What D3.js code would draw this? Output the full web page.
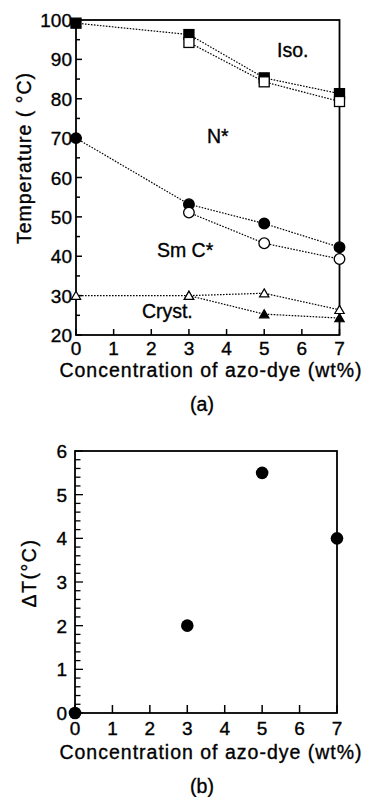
<!DOCTYPE html>
<html>
<head>
<meta charset="utf-8">
<script src="https://cdn.jsdelivr.net/npm/d3@7"></script>
<style>
  body { margin: 0; background: #fff; }
  svg text { font-family: "Liberation Sans", Arial, sans-serif; fill: #000; stroke: #000; stroke-width: 0.35px; }
</style>
</head>
<body>
<svg id="chart" width="367" height="797"></svg>
<script>
// concentration of azo-dye (wt%)
const conc = [0, 3, 5, 7];

// panel (a) transition temperatures (null = no point at that concentration)
const isoFilled = [99.2, 96.3, 85.3, 81.3];
const isoOpen = [null, 94.3, 84.3, 79.3];
const smcFilled = [70, 53.2, 48.3, 42.3];
const smcOpen = [null, 51.1, 43.3, 39.3];
const crystOpen = [30, 30, 30.6, 26.4];
const crystFilled = [null, 30, 25.3, 24.3];

// panel (b) delta T
const deltaT = [0, 2, 5.5, 4];

const xTicks = [0, 1, 2, 3, 4, 5, 6, 7];
const yTicksA = [20, 30, 40, 50, 60, 70, 80, 90, 100];
const yTicksB = [0, 1, 2, 3, 4, 5, 6];

const phaseLabels = [
  { text: "Iso.", x: 5.34, y: 90.6 },
  { text: "N*", x: 3.48, y: 68.8 },
  { text: "Sm C*", x: 2.15, y: 39.8 },
  { text: "Cryst.", x: 1.75, y: 24.3 }
];

const svg = d3.select("#chart");
const tickSize = 19;
const titleSize = 19.5;

// ---------- panel (a) ----------
const xA = d3.scaleLinear().domain([0, 7]).range([76, 339.5]);
const yA = d3.scaleLinear().domain([20, 100]).range([335, 20]);

const gA = svg.append("g");

// frame
gA.append("rect")
  .attr("x", xA(0)).attr("y", yA(100))
  .attr("width", xA(7) - xA(0)).attr("height", yA(20) - yA(100))
  .attr("fill", "none").attr("stroke", "#000").attr("stroke-width", 1.8);

// ticks drawn inward
gA.selectAll(".xt").data(xTicks).enter().append("line")
  .attr("x1", d => xA(d)).attr("x2", d => xA(d))
  .attr("y1", yA(20)).attr("y2", yA(20) - 6)
  .attr("stroke", "#000").attr("stroke-width", 1.5);

const yMinorA = d3.range(20, 100.1, 5);
gA.selectAll(".yt").data(yMinorA).enter().append("line")
  .attr("x1", xA(0)).attr("x2", d => xA(0) + (d % 10 === 0 ? 6 : 4))
  .attr("y1", d => yA(d)).attr("y2", d => yA(d))
  .attr("stroke", "#000").attr("stroke-width", 1.5);

gA.selectAll(".xl").data(xTicks).enter().append("text")
  .attr("x", d => xA(d)).attr("y", 355)
  .attr("text-anchor", "middle").attr("font-size", tickSize)
  .text(d => d);

gA.selectAll(".yl").data(yTicksA).enter().append("text")
  .attr("x", xA(0) - 4).attr("y", d => yA(d) + 7)
  .attr("text-anchor", "end").attr("font-size", tickSize)
  .text(d => d);

gA.append("text")
  .attr("x", 211).attr("y", 377)
  .attr("text-anchor", "middle").attr("font-size", titleSize)
  .attr("letter-spacing", 1)
  .text("Concentration of azo-dye (wt%)");

gA.append("text")
  .attr("transform", "translate(31,158) rotate(-90)")
  .attr("text-anchor", "middle").attr("font-size", titleSize)
  .attr("letter-spacing", 1)
  .text("Temperature ( \u00B0C)");

gA.append("text")
  .attr("x", 202).attr("y", 411)
  .attr("text-anchor", "middle").attr("font-size", titleSize)
  .text("(a)");

gA.selectAll(".phase").data(phaseLabels).enter().append("text")
  .attr("x", d => xA(d.x)).attr("y", d => yA(d.y))
  .attr("font-size", titleSize)
  .text(d => d.text);

const lineA = d3.line()
  .defined(d => d !== null)
  .x((d, i) => xA(conc[i])).y(d => yA(d));
const seriesA = [isoOpen, isoFilled, smcOpen, smcFilled, crystOpen, crystFilled];
gA.selectAll(".ln").data(seriesA).enter().append("path")
  .attr("d", d => lineA(d))
  .attr("fill", "none").attr("stroke", "#000")
  .attr("stroke-width", 1.2).attr("stroke-dasharray", "1.6,1.4");

function pts(vals) {
  return vals.map((v, i) => ({ x: conc[i], v: v })).filter(d => d.v !== null);
}
function squares(vals, fill) {
  gA.append("g").selectAll("rect").data(pts(vals)).enter().append("rect")
    .attr("x", d => xA(d.x) - 5).attr("y", d => yA(d.v) - 5)
    .attr("width", 10).attr("height", 10)
    .attr("fill", fill).attr("stroke", "#000").attr("stroke-width", 1.3);
}
function circles(vals, fill) {
  gA.append("g").selectAll("circle").data(pts(vals)).enter().append("circle")
    .attr("cx", d => xA(d.x)).attr("cy", d => yA(d.v))
    .attr("r", 5.3)
    .attr("fill", fill).attr("stroke", "#000").attr("stroke-width", 1.3);
}
function triangles(vals, fill) {
  const sym = d3.symbol().type(d3.symbolTriangle).size(38);
  gA.append("g").selectAll("path").data(pts(vals)).enter().append("path")
    .attr("d", sym)
    .attr("transform", d => "translate(" + xA(d.x) + "," + (yA(d.v) + 1) + ")")
    .attr("fill", fill).attr("stroke", "#000").attr("stroke-width", 1.2);
}

squares(isoFilled, "#000");
squares(isoOpen, "#fff");
circles(smcFilled, "#000");
circles(smcOpen, "#fff");
triangles(crystFilled, "#000");
triangles(crystOpen, "#fff");

// ---------- panel (b) ----------
const xB = d3.scaleLinear().domain([0, 7]).range([75, 337]);
const yB = d3.scaleLinear().domain([0, 6]).range([713, 451]);

const gB = svg.append("g");

gB.append("rect")
  .attr("x", xB(0)).attr("y", yB(6))
  .attr("width", xB(7) - xB(0)).attr("height", yB(0) - yB(6))
  .attr("fill", "none").attr("stroke", "#000").attr("stroke-width", 1.8);

gB.selectAll(".xt").data(xTicks).enter().append("line")
  .attr("x1", d => xB(d)).attr("x2", d => xB(d))
  .attr("y1", yB(0)).attr("y2", yB(0) - 8)
  .attr("stroke", "#000").attr("stroke-width", 1.5);

const yMinorB = d3.range(0, 30.5, 1).map(d => d / 5);
gB.selectAll(".yt").data(yMinorB).enter().append("line")
  .attr("x1", xB(0)).attr("x2", (d, i) => xB(0) + (i % 5 === 0 ? 8 : 5.5))
  .attr("y1", d => yB(d)).attr("y2", d => yB(d))
  .attr("stroke", "#000").attr("stroke-width", 1.3);

gB.selectAll(".xl").data(xTicks).enter().append("text")
  .attr("x", d => xB(d)).attr("y", 735)
  .attr("text-anchor", "middle").attr("font-size", tickSize)
  .text(d => d);

gB.selectAll(".yl").data(yTicksB).enter().append("text")
  .attr("x", xB(0) - 8).attr("y", d => yB(d) + 7)
  .attr("text-anchor", "end").attr("font-size", tickSize)
  .text(d => d);

gB.append("text")
  .attr("x", 211).attr("y", 759)
  .attr("text-anchor", "middle").attr("font-size", titleSize)
  .attr("letter-spacing", 1)
  .text("Concentration of azo-dye (wt%)");

gB.append("text")
  .attr("transform", "translate(36,573) rotate(-90)")
  .attr("text-anchor", "middle").attr("font-size", titleSize)
  .attr("letter-spacing", 1.5)
  .text("\u0394T(\u00B0C)");

gB.append("text")
  .attr("x", 202).attr("y", 793)
  .attr("text-anchor", "middle").attr("font-size", titleSize)
  .text("(b)");

gB.selectAll("circle").data(deltaT).enter().append("circle")
  .attr("cx", (d, i) => xB(conc[i])).attr("cy", d => yB(d))
  .attr("r", 6.3).attr("fill", "#000");
</script>
</body>
</html>
